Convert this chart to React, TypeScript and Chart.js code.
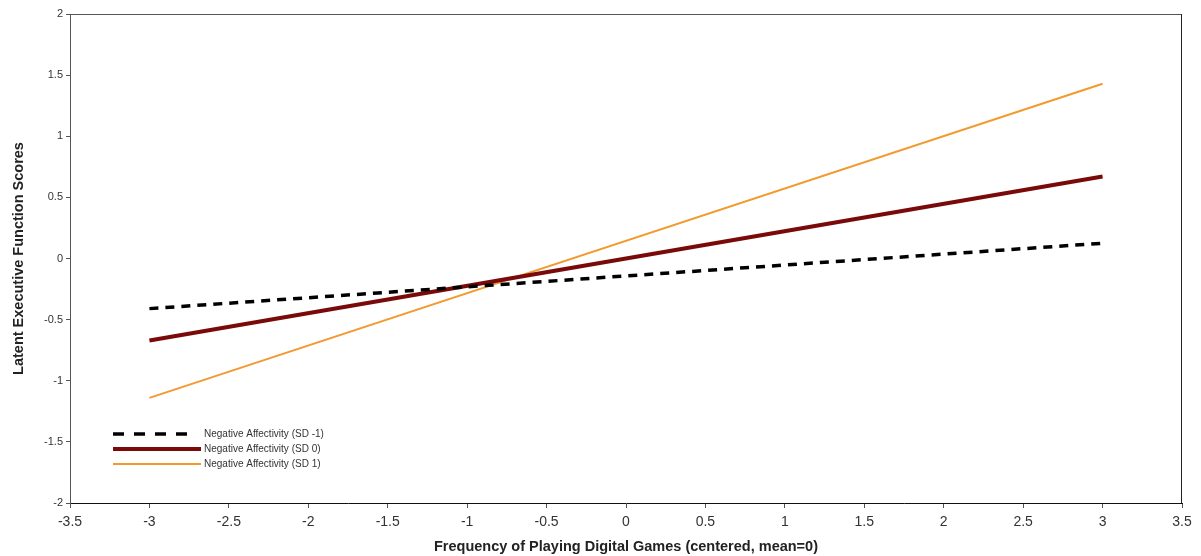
import React, { useEffect, useRef } from 'react';
import { Chart, registerables } from 'chart.js';

Chart.register(...registerables);

// ---- Data ----
const xPoints = [-3, 3];
const sdMinus1Values = [-0.41, 0.125];
const sd0Values = [-0.67, 0.67];
const sd1Values = [-1.14, 1.43];
const seriesLabels = [
  'Negative Affectivity (SD -1)',
  'Negative Affectivity (SD 0)',
  'Negative Affectivity (SD 1)',
];
const xAxisRange = [-3.5, 3.5];
const yAxisRange = [-2, 2];
const tickStep = 0.5;
const xTitle = 'Frequency of Playing Digital Games (centered, mean=0)';
const yTitle = 'Latent Executive Function Scores';

const FONT = '"Liberation Sans", Arial, Helvetica, sans-serif';

const toPoints = (vals: number[]) => xPoints.map((x, i) => ({ x, y: vals[i] }));
const fmtTick = (v: any) => String(Math.round(Number(v) * 10) / 10);

const frameAndLegend = {
  id: 'frameAndLegend',
  afterDraw(chart: any) {
    const { ctx, chartArea } = chart;
    const { left, right, top, bottom } = chartArea;
    ctx.save();
    // top and right frame lines
    ctx.lineWidth = 1;
    ctx.strokeStyle = '#555555';
    ctx.beginPath();
    ctx.moveTo(left, top + 0.5);
    ctx.lineTo(right, top + 0.5);
    ctx.stroke();
    ctx.strokeStyle = '#222222';
    ctx.beginPath();
    ctx.moveTo(right - 0.5, top);
    ctx.lineTo(right - 0.5, bottom);
    ctx.stroke();

    // legend inside plot, lower-left
    const rowsFromBottom = [69, 54, 39];
    const lineStart = left + 43;
    const sampleEnds = [118, 131, 131];
    const legendDashes = [[11, 10], [], []];
    chart.data.datasets.forEach((ds: any, i: number) => {
      const y = bottom - rowsFromBottom[i];
      ctx.strokeStyle = ds.borderColor;
      ctx.lineWidth = ds.borderWidth;
      ctx.setLineDash(legendDashes[i]);
      ctx.lineCap = 'butt';
      ctx.beginPath();
      ctx.moveTo(lineStart, y);
      ctx.lineTo(left + sampleEnds[i], y);
      ctx.stroke();
      ctx.setLineDash([]);
      ctx.fillStyle = '#333333';
      ctx.font = `10px ${FONT}`;
      ctx.textBaseline = 'middle';
      ctx.textAlign = 'left';
      ctx.fillText(ds.label, left + 134, y);
    });
    ctx.restore();
  },
};

export default function App() {
  const canvasRef = useRef<HTMLCanvasElement | null>(null);

  useEffect(() => {
    document.body.style.margin = '0';
    if (!canvasRef.current) return;
    const chart = new Chart(canvasRef.current, {
      type: 'scatter',
      data: {
        datasets: [
          {
            label: seriesLabels[0],
            data: toPoints(sdMinus1Values),
            showLine: true,
            borderColor: '#000000',
            backgroundColor: '#000000',
            borderWidth: 3.5,
            borderDash: [9, 7],
            pointRadius: 0,
          },
          {
            label: seriesLabels[1],
            data: toPoints(sd0Values),
            showLine: true,
            borderColor: '#7a0a0a',
            backgroundColor: '#7a0a0a',
            borderWidth: 4,
            pointRadius: 0,
          },
          {
            label: seriesLabels[2],
            data: toPoints(sd1Values),
            showLine: true,
            borderColor: '#f29a2e',
            backgroundColor: '#f29a2e',
            borderWidth: 2,
            pointRadius: 0,
          },
        ],
      },
      options: {
        responsive: false,
        animation: false,
        devicePixelRatio: 1,
        layout: { padding: { top: 14, right: 19, left: 0, bottom: 0 } },
        plugins: {
          legend: { display: false },
          tooltip: { enabled: false },
        },
        scales: {
          x: {
            type: 'linear',
            min: xAxisRange[0],
            max: xAxisRange[1],
            ticks: {
              stepSize: tickStep,
              color: '#333333',
              font: { family: FONT, size: 14 },
              padding: 6,
              maxRotation: 0,
              callback: fmtTick,
            },
            grid: {
              display: true,
              drawOnChartArea: false,
              drawTicks: true,
              tickLength: 5,
              color: '#555555',
            },
            border: { display: true, color: '#111111', width: 1 },
            title: {
              display: true,
              text: xTitle,
              color: '#222222',
              font: { family: FONT, size: 14.5, weight: 'bold' },
              padding: { top: 0, bottom: 0 },
            },
            afterFit(scale: any) {
              scale.height = 53;
            },
          },
          y: {
            type: 'linear',
            min: yAxisRange[0],
            max: yAxisRange[1],
            ticks: {
              stepSize: tickStep,
              color: '#333333',
              font: { family: FONT, size: 11 },
              padding: 3,
              callback: fmtTick,
            },
            grid: {
              display: true,
              drawOnChartArea: false,
              drawTicks: true,
              tickLength: 4,
              color: '#555555',
            },
            border: { display: true, color: '#555555', width: 1 },
            title: {
              display: true,
              text: yTitle,
              color: '#222222',
              font: { family: FONT, size: 14.5, weight: 'bold' },
              padding: { top: 10, bottom: 0 },
            },
            afterFit(scale: any) {
              scale.width = 70;
            },
          },
        },
      },
      plugins: [frameAndLegend],
    } as any);
    return () => chart.destroy();
  }, []);

  return (
    <div style={{ position: 'absolute', left: 0, top: 0, width: 1201, height: 556, background: '#ffffff' }}>
      <canvas ref={canvasRef} width={1201} height={556} />
    </div>
  );
}
